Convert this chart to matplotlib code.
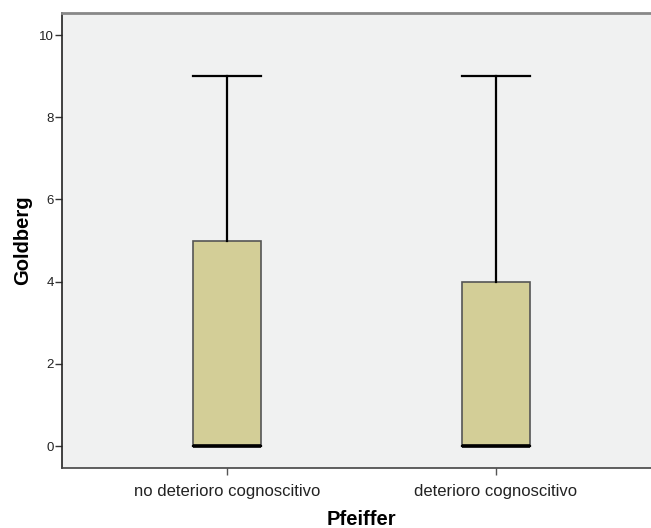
import matplotlib
matplotlib.use("Agg")
import matplotlib.pyplot as plt

# Summary statistics of Goldberg score by Pfeiffer group
categories = ["no deterioro cognoscitivo", "deterioro cognoscitivo"]
minimum = [0, 0]
q1 = [0, 0]
median = [0, 0]
q3 = [5, 4]
maximum = [9, 9]
yticks = [0, 2, 4, 6, 8, 10]

plt.rcParams["font.family"] = ["Liberation Sans", "DejaVu Sans"]

fig = plt.figure(figsize=(6.51, 5.28), dpi=100)
ax = fig.add_axes([62 / 651, 60 / 528, 599 / 651, 455.5 / 528])
ax.set_facecolor("#F0F1F1")

stats = []
for lab, lo, a, m, b, hi in zip(categories, minimum, q1, median, q3, maximum):
    stats.append(dict(label=lab, whislo=lo, q1=a, med=m, q3=b, whishi=hi, fliers=[]))

positions = [1, 2]
ax.bxp(
    stats,
    positions=positions,
    widths=0.253,
    patch_artist=True,
    showfliers=False,
    boxprops=dict(facecolor="#D3CE97", edgecolor="#555555", linewidth=1.2),
    whiskerprops=dict(color="black", linewidth=1.6),
    capprops=dict(color="black", linewidth=1.6),
    medianprops=dict(color="black", linewidth=2.6, solid_capstyle="butt"),
    capwidths=0.253,
)

ax.set_xlim(1 - 165 / 269, 2 + 165 / 269)
ax.set_ylim(-0.535, 10.55)
ax.set_yticks(yticks)
ax.set_yticklabels([str(t) for t in yticks])
ax.set_xticks(positions)
ax.set_xticklabels(categories)

ax.tick_params(axis="y", labelsize=9.5, length=5, width=1, color="#333333", pad=1,
               labelcolor="#222222")
ax.tick_params(axis="x", labelsize=12, length=5, width=1, color="#555555", pad=6.5,
               labelcolor="#222222")

ax.spines["left"].set_color("#222222")
ax.spines["left"].set_linewidth(1.2)
ax.spines["bottom"].set_color("#444444")
ax.spines["bottom"].set_linewidth(1.2)
ax.spines["top"].set_color("#888888")
ax.spines["top"].set_linewidth(2)
ax.spines["right"].set_visible(False)

ax.set_ylabel("Goldberg", fontsize=14.5, fontweight="bold", labelpad=4.5)
ax.set_xlabel("Pfeiffer", fontsize=14.5, fontweight="bold", labelpad=8)

fig.savefig("out.png", dpi=100, facecolor="white")
